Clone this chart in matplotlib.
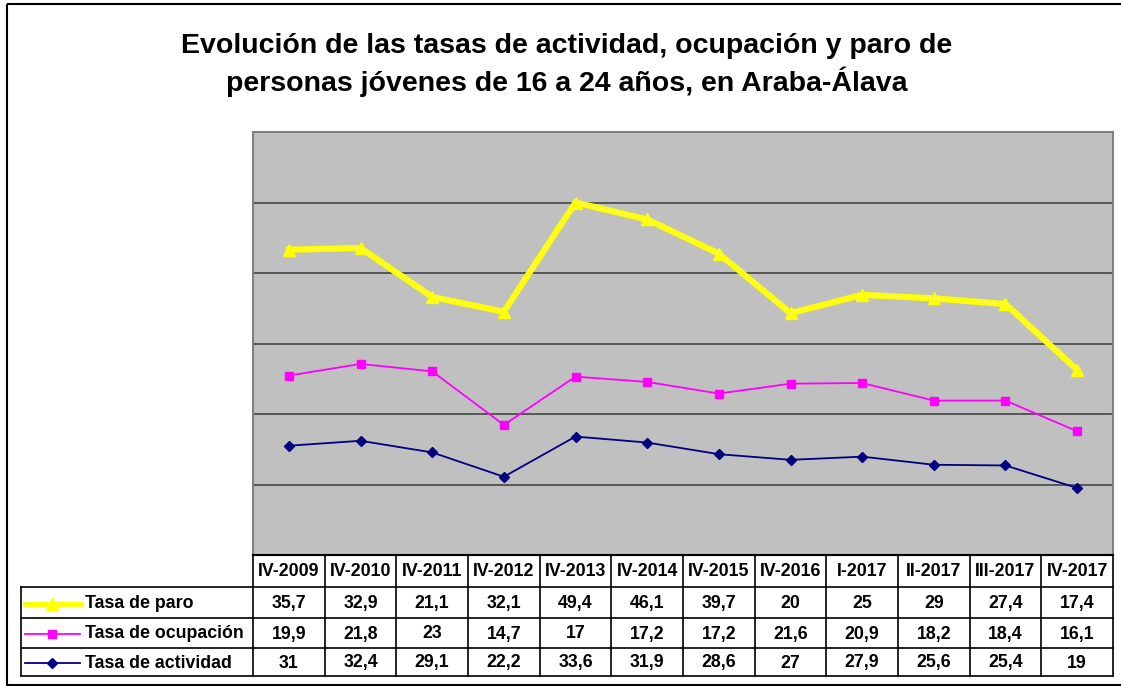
import numpy as np
import matplotlib
matplotlib.use("Agg")
import matplotlib.pyplot as plt
from matplotlib.lines import Line2D
from matplotlib.patches import Rectangle

categories = ["IV-2009", "IV-2010", "IV-2011", "IV-2012", "IV-2013", "IV-2014",
              "IV-2015", "IV-2016", "I-2017", "II-2017", "III-2017", "IV-2017"]
tasa_actividad = [31, 32.4, 29.1, 22.2, 33.6, 31.9, 28.6, 27, 27.9, 25.6, 25.4, 19]
tasa_ocupacion = [19.9, 21.8, 23, 14.7, 17, 17.2, 17.2, 21.6, 20.9, 18.2, 18.4, 16.1]
tasa_paro = [35.7, 32.9, 21.1, 32.1, 49.4, 46.1, 39.7, 20, 25, 29, 27.4, 17.4]
series_names = ["Tasa de paro", "Tasa de ocupación", "Tasa de actividad"]
title = "Evolución de las tasas de actividad, ocupación y paro de\npersonas jóvenes de 16 a 24 años, en Araba-Álava"

plt.rcParams['font.family'] = ['Liberation Sans', 'DejaVu Sans']

W, H = 1121, 686
fig = plt.figure(figsize=(W / 100, H / 100), dpi=100)
fig.patch.set_facecolor("white")

# plot area in pixels
PL, PR, PT, PB = 253, 1113, 132, 555
ax = fig.add_axes([PL / W, 1 - PB / H, (PR - PL) / W, (PB - PT) / H])
ax.set_facecolor("#C0C0C0")
n = len(categories)
x = np.arange(n)
ax.set_xlim(-0.5, n - 0.5)
ax.set_ylim(0, 120)
ax.set_yticks(np.arange(20, 120, 20))
ax.yaxis.grid(True, color="#454545", lw=1.2)
ax.set_axisbelow(True)
ax.tick_params(left=False, bottom=False, labelleft=False, labelbottom=False)
for s in ax.spines.values():
    s.set_color("#808080")
    s.set_linewidth(1.5)

# stacked line chart (as in the original Excel chart)
act = np.array(tasa_actividad)
ocu = act + np.array(tasa_ocupacion)
par = ocu + np.array(tasa_paro)

ax.plot(x, par, color="#FFFF00", lw=4.5, marker="^", ms=8, mec="#FFFF00", mfc="#FFFF00",
        solid_joinstyle="miter", zorder=4)
ax.plot(x, par, color="#FFFFB0", lw=1.0, ls=(0, (1, 2)), zorder=5)
ax.plot(x, ocu, color="#FF00FF", lw=1.3, marker="s", ms=5.5, mec="#FF00FF", mfc="#FF00FF", zorder=4)
ax.plot(x, act, color="#000080", lw=1.3, marker="D", ms=5, mec="#000080", mfc="#000080", zorder=4)

# overlay in pixel coordinates for title, frame and data table
ov = fig.add_axes([0, 0, 1, 1], zorder=-1)
ov.set_xlim(0, W)
ov.set_ylim(H, 0)
ov.axis("off")
ov.add_patch(Rectangle((6.5, 3.5), W + 20, 681, fill=False, ec="black", lw=1.5))

ov2 = fig.add_axes([0, 0, 1, 1], zorder=5)
ov2.set_xlim(0, W)
ov2.set_ylim(H, 0)
ov2.axis("off")
ov2.patch.set_alpha(0)

ov2.text(567, 65, title, ha="center", va="center", fontsize=20.5, fontweight="bold",
         linespacing=1.32)

rows_y = [555, 587, 618, 648, 676]
TL = 21
colw = (PR - PL) / n
lc = "black"
lw = 1.2
# header
ov2.plot([PL, PR], [rows_y[0], rows_y[0]], color=lc, lw=1.5)
for i in range(n + 1):
    xx = PL + i * colw
    ov2.plot([xx, xx], [rows_y[0], rows_y[-1]], color=lc, lw=lw)
for yy in rows_y[1:]:
    ov2.plot([TL, PR], [yy, yy], color=lc, lw=lw)
ov2.plot([TL, TL], [rows_y[1], rows_y[-1]], color=lc, lw=lw)

fs = 12.8
for i, c in enumerate(categories):
    ov2.text(PL + (i + 0.5) * colw, (rows_y[0] + rows_y[1]) / 2 + 1, c, ha="center", va="center",
             fontsize=fs, fontweight="bold")

def fmt(v):
    s = ("%g" % v).replace(".", ",")
    return s

table_series = [tasa_paro, tasa_ocupacion, tasa_actividad]
styles = [
    dict(color="#FFFF00", lw=3.5, marker="^", ms=8, mec="#FFFF00", mfc="#FFFF00"),
    dict(color="#FF00FF", lw=1.3, marker="s", ms=5.5, mec="#FF00FF", mfc="#FF00FF"),
    dict(color="#000080", lw=1.3, marker="D", ms=5, mec="#000080", mfc="#000080"),
]
for r, (name, vals, st) in enumerate(zip(series_names, table_series, styles)):
    yc = (rows_y[r + 1] + rows_y[r + 2]) / 2 + 1
    ov2.add_line(Line2D([25, 52, 80], [yc, yc, yc], markevery=[1], **st))
    ov2.text(85, yc, name, ha="left", va="center", fontsize=fs, fontweight="bold")
    for i, v in enumerate(vals):
        ov2.text(PL + (i + 0.5) * colw, yc, fmt(v), ha="center", va="center",
                 fontsize=fs, fontweight="bold")

fig.savefig("out.png", dpi=100, facecolor="white")
